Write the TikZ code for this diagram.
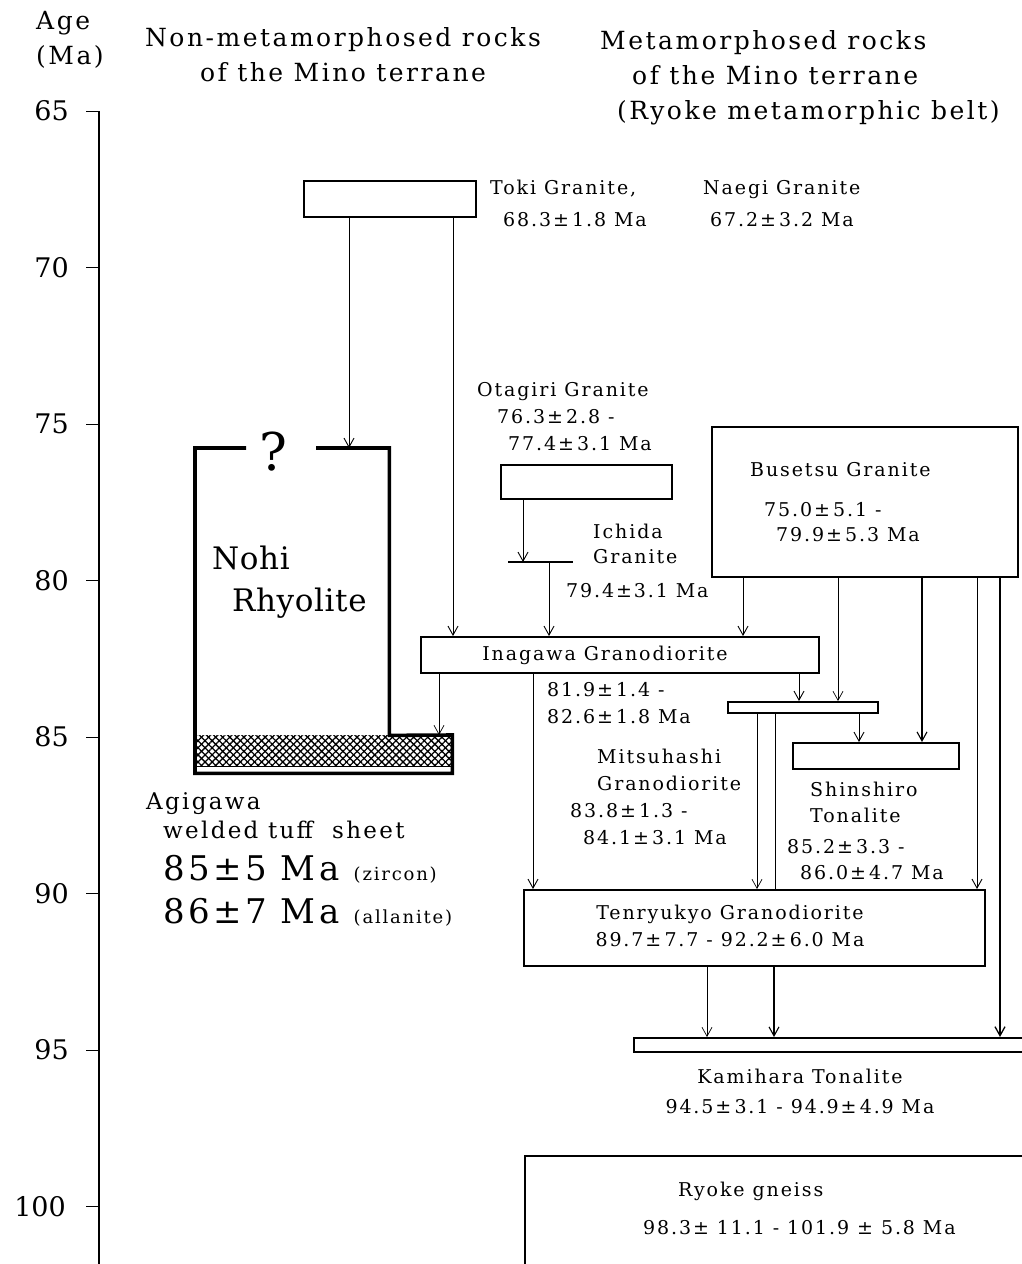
\documentclass[tikz,border=0pt]{standalone}
\usepackage{fontspec}
\setmainfont{DejaVu Serif}[LetterSpace=10]
\newfontfamily\plainserif{DejaVu Serif}
\usetikzlibrary{arrows.meta,patterns.meta,positioning}
\tikzset{
	my box/.style={draw, line width=1.5pt, inner sep=0pt, anchor=north west},
	my edge/.style={-{Straight Barb[length=9pt,width=10pt]}, line width=0.9pt},
	my line/.style={-, line width=0.9pt},
	my text/.style={inner sep=0pt, anchor=north west, align=left, font=\fontsize{19}{27}\selectfont},
	head text/.style={inner sep=0pt, anchor=north west, align=left, font=\fontsize{25}{35}\selectfont}
}
\newcommand{\agey}[1]{111+(#1-65)*31.3}

\begin{document}
\begin{tikzpicture}[x=1pt,y=-1pt]
            \useasboundingbox (0,0) rectangle (1021,1264);
            % age axis
            \draw[line width=1.2pt] (99,{\agey{65}}) -- (99,1264);
            \foreach \a in {65,70,...,100} {
                \pgfmathsetmacro{\lx}{\a==100 ? 66 : 69}
                \draw[line width=1pt] (86,{\agey{\a}}) -- (99,{\agey{\a}});
                \node[inner sep=0pt, anchor=east, font=\plainserif\fontsize{27}{27}\selectfont] (t\a) at (\lx,{\agey{\a}}) {\a};
            }
            % headings
            \node[head text] (age) at (36,11) {Age\\(Ma)};
            \node[head text, anchor=north, align=center] (nonmeta) at (343,27) {Non-metamorphosed rocks\\of the Mino terrane};
            \node[head text] (meta) at (600,30) {Metamorphosed rocks\\\hspace*{32pt}of the Mino terrane\\\hspace*{17pt}(Ryoke metamorphic belt)};
            % boxes
            \node[my box, minimum width=172, minimum height=36] (toki) at (303,180) {};
            \node[my box, minimum width=171, minimum height=34] (otagiri) at (500,464) {};
            \node[inner sep=0pt, minimum width=65, minimum height=0, anchor=west] (ichida) at (508,562) {};
            \node[my box, minimum width=306, minimum height=150] (busetsu) at (711,426) {};
            \node[my box, minimum width=398, minimum height=36] (inagawa) at (420,636) {};
            \node[my box, minimum width=150, minimum height=11] (mitsu) at (727,701) {};
            \node[my box, minimum width=166, minimum height=26] (shinshiro) at (792,742) {};
            \node[my box, minimum width=461, minimum height=76] (tenryu) at (523,889) {};
            \node[my box, minimum width=400, minimum height=14] (kamihara) at (633,1037) {};
            \node[my box, minimum width=510, minimum height=130] (ryoke) at (524,1155) {};
            % Nohi Rhyolite and the welded tuff
            \node[inner sep=0pt, minimum width=194, minimum height=287, anchor=north west] (nohi) at (195,448) {};
            \node[inner sep=0pt, minimum width=257, minimum height=38, anchor=north west] (tuff) at (195,735) {};
            \fill[pattern={Lines[angle=45,distance=5pt,line width=1.3pt]}] (tuff.north west) rectangle ([yshift=-12pt]tuff.east);
            \fill[pattern={Lines[angle=-45,distance=5pt,line width=1.3pt]}] (tuff.north west) rectangle ([yshift=-12pt]tuff.east);
            \draw[line width=1pt] ([yshift=-12pt]tuff.west) -- ([yshift=-12pt]tuff.east);
            \draw[line width=1.2pt] (ichida.west) -- (ichida.east);
            \draw[line width=3.6pt, line join=miter] (246,448) -- (nohi.north west) -- (tuff.south west) -- (tuff.south east)
                -- (tuff.north east) -- (nohi.south east) -- (nohi.north east) -- (316,448);
            \node[inner sep=0pt, font=\plainserif\fontsize{52}{52}\selectfont] (qm) at (273,452) {?};
            \node[inner sep=0pt, anchor=north west, align=left, font=\addfontfeature{LetterSpace=2}\fontsize{31}{42}\selectfont] (nohitext) at (212,546) {Nohi\\\hspace*{20pt}Rhyolite};
            % labels
            \node[my text, font=\fontsize{19}{32}\selectfont] (tokitext) at (490,180) {Toki Granite,\\\hspace*{13pt}68.3±\,1.8 Ma};
            \node[my text, font=\fontsize{19}{32}\selectfont] (naegitext) at (703,180) {Naegi Granite\\\hspace*{7pt}67.2±\,3.2 Ma};
            \node[my text] (otagiritext) at (477,382) {Otagiri Granite\\\hspace*{20pt}76.3±\,2.8 -\\\hspace*{31pt}77.4±\,3.1 Ma};
            \node[my text, font=\fontsize{19}{25}\selectfont] (ichidatext) at (566,524) {\hspace*{27pt}Ichida\\\hspace*{27pt}Granite\\[9pt]79.4±3.1 Ma};
            \node[my text, font=\fontsize{19}{25}\selectfont] (busetsutext) at (750,462) {Busetsu Granite\\[15pt]\hspace*{14pt}75.0±\,5.1 -\\\hspace*{26pt}79.9±\,5.3 Ma};
            \node[inner sep=0pt, font=\fontsize{19}{27}\selectfont] (inagawatext) at (605,655) {Inagawa Granodiorite};
            \node[my text] (inagawaage) at (547,682) {81.9±\,1.4 -\\82.6±\,1.8 Ma};
            \node[my text] (mitsutext) at (570,749) {\hspace*{27pt}Mitsuhashi\\\hspace*{27pt}Granodiorite\\83.8±\,1.3 -\\\hspace*{13pt}84.1±\,3.1 Ma};
            \node[my text, font=\fontsize{19}{26}\selectfont] (shinshirotext) at (787,782) {\hspace*{23pt}Shinshiro\\\hspace*{23pt}Tonalite\\[5pt]85.2±\,3.3 -\\\hspace*{13pt}86.0±\,4.7 Ma};
            \node[inner sep=0pt, align=center, font=\fontsize{19}{27}\selectfont] (tenryutext) at (730,926) {Tenryukyo Granodiorite\\89.7±\,7.7 - 92.2±\,6.0 Ma};
            \node[inner sep=0pt, align=center, font=\fontsize{19}{30}\selectfont] (kamiharatext) at (800,1091) {Kamihara Tonalite\\94.5±\,3.1 - 94.9±\,4.9 Ma};
            \node[my text, font=\fontsize{19}{38}\selectfont] (ryoketext) at (643,1182) {\hspace*{35pt}Ryoke gneiss\\98.3± 11.1 - 101.9 ± 5.8 Ma};
            \node[my text, font=\fontsize{23}{29}\selectfont] (agitext) at (146,792) {Agigawa\\\hspace*{17pt}welded tuff~ sheet};
            \node[inner sep=0pt, anchor=west] (agiz) at (163,869) {\fontsize{34}{34}\selectfont 85±5 Ma {\fontsize{18}{18}\selectfont(zircon)}};
            \node[inner sep=0pt, anchor=west] (agia) at (163,912) {\fontsize{34}{34}\selectfont 86±7 Ma {\fontsize{18}{18}\selectfont(allanite)}};
            % arrows
            \draw[my edge] (toki.south -| 349,0) -- (nohi.north -| 349,0);
            \draw[my edge] (toki.south -| 453,0) -- (inagawa.north -| 453,0);
            \draw[my edge] (otagiri.south -| 523,0) -- (ichida.center -| 523,0);
            \draw[my edge] (ichida.center -| 549,0) -- (inagawa.north -| 549,0);
            \draw[my edge] (busetsu.south -| 743,0) -- (inagawa.north -| 743,0);
            \draw[my edge, line width=0.7pt] (busetsu.south -| 838,0) -- (mitsu.north -| 838,0);
            \draw[my edge, line width=1.1pt] (busetsu.south -| 922,0) -- (shinshiro.north -| 922,0);
            \draw[my edge] (busetsu.south -| 977,0) -- (tenryu.north -| 977,0);
            \draw[my edge, line width=1.3pt] (busetsu.south -| 1000,0) -- (kamihara.north -| 1000,0);
            \draw[my edge, line width=0.7pt] (inagawa.south -| 439,0) -- (tuff.north -| 439,0);
            \draw[my edge] (inagawa.south -| 533,0) -- (tenryu.north -| 533,0);
            \draw[my edge] (inagawa.south -| 799,0) -- (mitsu.north -| 799,0);
            \draw[my edge] (mitsu.south -| 859,0) -- (shinshiro.north -| 859,0);
            \draw[my edge, line width=0.7pt] (mitsu.south -| 757,0) -- (tenryu.north -| 757,0);
            \draw[my line] (mitsu.south -| 775,0) -- (tenryu.north -| 775,0);
            \draw[my edge, line width=0.7pt] (tenryu.south -| 707,0) -- (kamihara.north -| 707,0);
            \draw[my edge, line width=1.1pt] (tenryu.south -| 774,0) -- (kamihara.north -| 774,0);
\end{tikzpicture}
\end{document}
